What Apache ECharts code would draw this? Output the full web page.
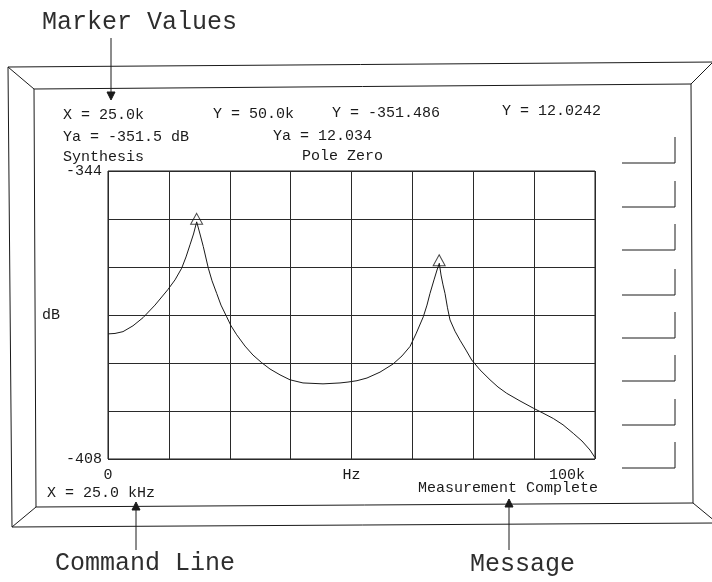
<!DOCTYPE html>
<html>
<head>
<meta charset="utf-8">
<script src="https://cdn.jsdelivr.net/npm/echarts@6/dist/echarts.min.js"></script>
<style>
  html, body { margin: 0; padding: 0; background: #fff; }
  #chart { width: 712px; height: 582px; }
</style>
</head>
<body>
<div id="chart"></div>
<script>
// trace: frequency in kHz, level in dB
var freqK = [0, 1.44, 3.08, 5.13, 7.19, 9.65, 12.26, 13.76, 15.13, 16.02, 16.84, 17.56, 18.21,
    18.89, 19.57, 20.60, 21.36, 22.32, 23.20, 24.37, 25.26, 26.43, 28.13, 29.77, 31.56, 33.26, 35.32,
    37.37, 40.04, 44.15, 47.64, 49.28, 51.13, 53.18, 55.85, 58.52, 60.37, 62.01, 63.24, 64.74, 65.50,
    66.12, 66.94, 67.56, 68.03, 68.38, 68.79, 69.20, 69.71, 70.23, 71.25, 72.28, 73.51, 74.68, 76.39,
    78.44, 80.08, 81.87, 84.60, 87.33, 89.32, 91.44, 93.43, 95.54, 97.33, 98.97, 100];
var levelDb = [-380.2, -380.1, -379.7, -378.4, -376.6, -373.8, -370.4, -368.2, -365.6, -363.1, -360.4, -358.0, -355.3,
    -358.0, -360.8, -365.6, -368.4, -371.2, -373.8, -376.4, -378.4, -380.4, -382.9, -384.9, -386.6, -388.0, -389.3,
    -390.4, -391.1, -391.3, -391.1, -390.9, -390.6, -390.0, -388.7, -386.9, -385.1, -383.0, -380.2, -376.4, -373.8,
    -371.2, -368.2, -366.0, -364.5, -367.1, -369.3, -371.2, -374.4, -377.1, -379.6, -381.6, -383.8, -386.0, -388.2,
    -390.4, -392.0, -393.4, -395.1, -396.7, -397.8, -399.0, -400.4, -402.3, -404.0, -406.0, -407.7];

// the two peak markers
var markerFreqK = [18.2, 68.0];
var markerDb = [-355.3, -364.5];

// axis scale and tick labels
var xMin = 0, xMax = 100, xStep = 12.5;
var yMin = -408, yMax = -344;
var xLabelAt = [0, 50, 100];
var xLabelText = ['0', 'Hz', '100k'];
var yLabelAt = [-408, -344];

// screen texts
var readoutRow1 = ['X = 25.0k', 'Y = 50.0k', 'Y = -351.486', 'Y = 12.0242'];
var readoutRow2 = ['Ya = -351.5 dB', 'Ya = 12.034'];
var titleLeft = 'Synthesis', titleMid = 'Pole Zero';
var commandText = 'X = 25.0 kHz', messageText = 'Measurement Complete';
var callouts = ['Marker Values', 'Command Line', 'Message'];

var ink = '#1a1a1a';
var small = '15px "Liberation Mono", "DejaVu Sans Mono", monospace';
var big = '25px "Liberation Mono", "DejaVu Sans Mono", monospace';

function txt(s, x, y, font, align, color) {
    return {
        type: 'text', x: x, y: y, silent: true,
        style: { text: s, font: font, fill: color || ink, textAlign: align || 'left', textVerticalAlign: 'middle',
            align: align || 'left', verticalAlign: 'middle' }
    };
}
function seg(points) {
    return { type: 'polyline', silent: true, shape: { points: points }, style: { stroke: ink, lineWidth: 1, fill: null } };
}
function head(points) {
    return { type: 'polygon', silent: true, shape: { points: points }, style: { fill: ink, stroke: ink, lineWidth: 1 } };
}

var graphics = [];
// bezel of the screen
graphics.push(seg([[8, 67], [716, 62]]));
graphics.push(seg([[8, 67], [12, 527]]));
graphics.push(seg([[12, 527], [716, 523]]));
graphics.push(seg([[34, 89], [691, 84], [693, 503], [36, 507], [34, 89]]));
graphics.push(seg([[8, 67], [34, 89]]));
graphics.push(seg([[714, 61], [691, 84]]));
graphics.push(seg([[12, 527], [36, 507]]));
graphics.push(seg([[693, 503], [716, 522]]));
// softkey brackets
var keyBottoms = [163, 207, 250, 295, 338, 381, 425, 468];
keyBottoms.forEach(function (b) {
    graphics.push(seg([[622, b], [675, b], [675, b - 26]]));
});
// callout arrows
graphics.push(seg([[111, 38], [111, 95]]));
graphics.push(head([[107, 92], [115, 92], [111, 100]]));
graphics.push(seg([[136, 508], [136, 550]]));
graphics.push(head([[132, 510], [140, 510], [136, 502]]));
graphics.push(seg([[509, 505], [509, 550]]));
graphics.push(head([[505, 507], [513, 507], [509, 499]]));
// texts
graphics.push(txt(callouts[0], 42, 22, big, 'left', '#2e2e2e'));
graphics.push(txt(callouts[1], 55, 563, big, 'left', '#2e2e2e'));
graphics.push(txt(callouts[2], 470, 564, big, 'left', '#2e2e2e'));
graphics.push(txt(readoutRow1[0], 63, 115, small));
graphics.push(txt(readoutRow1[1], 213, 114, small));
graphics.push(txt(readoutRow1[2], 332, 113, small));
graphics.push(txt(readoutRow1[3], 502, 111, small));
graphics.push(txt(readoutRow2[0], 63, 137, small));
graphics.push(txt(readoutRow2[1], 273, 136, small));
graphics.push(txt(titleLeft, 63, 157, small));
graphics.push(txt(titleMid, 302, 156, small));
graphics.push(txt(commandText, 47, 493, small));
graphics.push(txt(messageText, 418, 488, small));

var myChart = echarts.init(document.getElementById('chart'));
var option = {
    animation: false,
    backgroundColor: '#fff',
    grid: {
        left: 108, top: 171, width: 487, height: 288,
        show: true, borderColor: ink, borderWidth: 1, backgroundColor: 'transparent'
    },
    xAxis: {
        type: 'value', min: xMin, max: xMax, interval: xStep,
        axisLine: { show: false }, axisTick: { show: false },
        splitLine: { show: true, lineStyle: { color: '#2a2a2a', width: 1 } },
        axisLabel: {
            margin: 9, color: ink, fontFamily: '"Liberation Mono", monospace', fontSize: 15,
            showMinLabel: true, showMaxLabel: true,
            formatter: function (v) {
                var i = xLabelAt.indexOf(Math.round(v * 10) / 10);
                if (i < 0) return '';
                if (i === xLabelText.length - 1) return '{e|' + xLabelText[i] + '}';
                return xLabelText[i];
            },
            rich: { e: { padding: [0, 56, 0, 0], color: ink, fontFamily: '"Liberation Mono", monospace', fontSize: 15 } }
        }
    },
    yAxis: {
        type: 'value', min: yMin, max: yMax, interval: (yMax - yMin) / 6,
        name: 'dB', nameLocation: 'middle', nameGap: 45, nameRotate: 0,
        nameTextStyle: { color: ink, fontFamily: '"Liberation Mono", monospace', fontSize: 15 },
        axisLine: { show: false }, axisTick: { show: false },
        splitLine: { show: true, lineStyle: { color: '#2a2a2a', width: 1 } },
        axisLabel: {
            margin: 6, color: ink, fontFamily: '"Liberation Mono", monospace', fontSize: 15,
            showMinLabel: true, showMaxLabel: true,
            formatter: function (v) {
                var r = Math.round(v);
                return (Math.abs(v - r) < 0.01 && yLabelAt.indexOf(r) >= 0) ? String(r) : '';
            }
        }
    },
    series: [
        {
            type: 'line',
            data: freqK.map(function (f, i) { return [f, levelDb[i]]; }),
            showSymbol: false,
            smooth: false,
            lineStyle: { color: ink, width: 1 },
            z: 3
        },
        {
            type: 'scatter',
            data: markerFreqK.map(function (f, i) { return [f, markerDb[i]]; }),
            symbol: 'triangle',
            symbolSize: [12, 11],
            symbolOffset: [0, -3],
            itemStyle: { color: 'rgba(255,255,255,0)', borderColor: ink, borderWidth: 1 },
            z: 4
        }
    ],
    graphic: graphics
};
myChart.setOption(option);
window.addEventListener('resize', function () {
    myChart.resize();
});
</script>
</body>
</html>
